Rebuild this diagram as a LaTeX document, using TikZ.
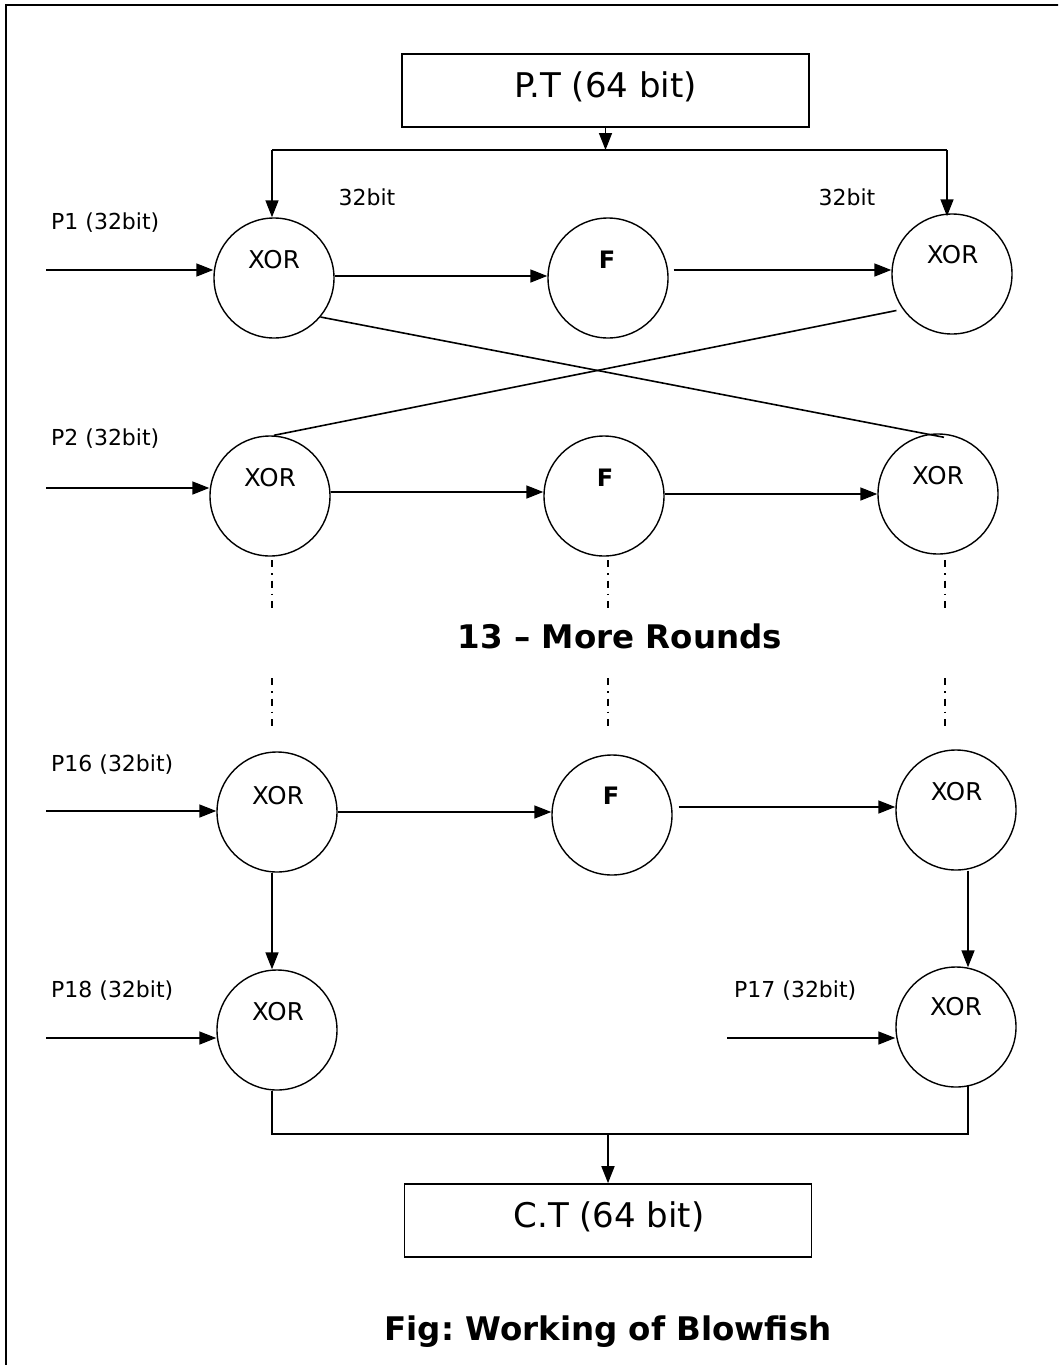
\documentclass[tikz,border=0pt]{standalone}
\usepackage{fontspec}
\setmainfont{DejaVu Sans}
\usetikzlibrary{arrows.meta}
\begin{document}
\frenchspacing
\begin{tikzpicture}[x=1pt,y=-1pt,
  ln/.style={line width=1.6pt},
  arr/.style={line width=1.6pt,-{Triangle[length=17pt,width=13pt]}},
  rnd/.style={circle,draw,line width=1.4pt,minimum size=120pt,inner sep=0pt},
  box/.style={draw,line width=1.6pt,minimum width=407pt,minimum height=73pt,inner sep=0pt},
  big/.style={anchor=base,inner sep=0pt,font=\fontsize{34}{40}\selectfont},
  opn/.style={anchor=base,inner sep=0pt,font=\fontsize{24.5}{29}\selectfont},
  fop/.style={anchor=base,inner sep=0pt,font=\bfseries\fontsize{24}{29}\selectfont},
  sml/.style={anchor=base,inner sep=0pt,font=\fontsize{22}{26}\selectfont},
  smw/.style={anchor=base west,inner sep=0pt,font=\fontsize{22}{26}\selectfont},
  hd/.style={anchor=base,inner sep=0pt,font=\bfseries\fontsize{32.5}{38}\selectfont},
  dd/.style={line width=1.3pt,dash pattern=on 7pt off 6pt on 1.5pt off 6pt}]
\useasboundingbox (0,0) rectangle (1058,1365);
\clip (0,0) rectangle (1058,1365);
% frame
\draw[line width=2pt] (6,5) rectangle (1080,1390);

% boxes
\node[box] (pt) at (605.5,90.5) {};
\node[big] (ptt) at (605.5,97) {P.T (64 bit)};
\node[box] (ct) at (608,1220.5) {};
\node[big] (ctt) at (609,1227) {C.T (64 bit)};

% circles
\node[rnd] (x1) at (274,278) {};
\node[rnd] (f1) at (608,278) {};
\node[rnd] (xr1) at (952,274) {};
\node[rnd] (x2) at (270,496) {};
\node[rnd] (f2) at (604,496) {};
\node[rnd] (xr2) at (938,494) {};
\node[rnd] (x3) at (277,812) {};
\node[rnd] (f3) at (612,815) {};
\node[rnd] (xr3) at (956,810) {};
\node[rnd] (x4) at (277,1030) {};
\node[rnd] (xr4) at (956,1027) {};

% circle texts
\node[opn] (x1t) at (274,268) {XOR};
\node[fop] (f1t) at (607,268) {F};
\node[opn] (xr1t) at (952.5,263) {XOR};
\node[opn] (x2t) at (270,486) {XOR};
\node[fop] (f2t) at (605,486) {F};
\node[opn] (xr2t) at (938,484) {XOR};
\node[opn] (x3t) at (278,804) {XOR};
\node[fop] (f3t) at (611,804) {F};
\node[opn] (xr3t) at (956.5,800) {XOR};
\node[opn] (x4t) at (278,1020) {XOR};
\node[opn] (xr4t) at (956,1015) {XOR};

% labels
\node[sml] (b32l) at (367,205) {32bit};
\node[sml] (b32r) at (847,205) {32bit};
\node[smw] (p1) at (51,229) {P1 (32bit)};
\node[smw] (p2) at (51,445) {P2 (32bit)};
\node[smw] (p16) at (51,771) {P16 (32bit)};
\node[smw] (p18) at (51,997) {P18 (32bit)};
\node[smw] (p17) at (734,997) {P17 (32bit)};
\node[hd] (more) at (620,648) {13 – More Rounds};
\node[hd] (cap) at (608,1340) {Fig: Working of Blowfish};

% top distribution
\coordinate (tl) at (272,150);
\coordinate (tr) at (947,150);
\draw[ln] (tl) -- (tr);
\draw[arr] (pt.south) -- (pt.south |- tl);
\draw[arr] (tl) -- (tl |- x1.north);
\draw[arr] (tr) -- ([yshift=-3pt]tr |- xr1.north);

% inputs
\coordinate (i1) at (46,270);
\coordinate (i2) at (46,488);
\coordinate (i3) at (46,811);
\coordinate (i4) at (46,1038);
\coordinate (i5) at (727,1038);
\draw[arr] (i1) -- (i1 -| x1.west);
\draw[arr] (i2) -- (i2 -| x2.west);
\draw[arr] (i3) -- (i3 -| x3.west);
\draw[arr] (i4) -- (i4 -| x4.west);
\draw[arr] (i5) -- (i5 -| xr4.west);

% row 1
\draw[arr] ([yshift=2pt]x1.east) -- ([yshift=2pt]x1.east -| f1.west);
\draw[arr] ([xshift=5pt,yshift=8pt]f1.east) -- ([yshift=8pt]f1.east -| xr1.west);
% row 2
\draw[arr] ([yshift=4pt]x2.east) -- ([yshift=4pt]x2.east -| f2.west);
\draw[arr] ([yshift=2pt]f2.east) -- ([yshift=2pt]f2.east -| xr2.west);
% row 3
\draw[arr] (x3.east) -- (x3.east -| f3.west);
\draw[arr] ([xshift=6pt,yshift=8pt]f3.east) -- ([yshift=8pt]f3.east -| xr3.west);

% crossing
\draw[ln] (x1.-40) -- ([xshift=6pt,yshift=-4pt]xr2.north);
\draw[ln] ([xshift=-2pt,yshift=-8pt]xr1.208) -- ([xshift=4pt]x2.north);

% dash-dot continuation
\foreach \cx in {272,608,945}{
  \draw[dd] (\cx,560) -- (\cx,608);
  \draw[dd] (\cx,678) -- (\cx,727);
}

% final rounds
\draw[arr] ([xshift=-5pt]x3.south) -- ([xshift=-5pt]x4.north);
\draw[arr] ([xshift=12pt]xr3.south) -- ([xshift=12pt,yshift=-1pt]xr4.north);

% output
\coordinate (bl) at (272,1134);
\coordinate (br) at (968,1134);
\draw[ln] ([xshift=-5pt]x4.south) -- (bl) -- (br) -- ([yshift=1.5pt]br |- xr4.south);
\draw[arr] (ct.north |- bl) -- (ct.north);
\end{tikzpicture}
\end{document}
